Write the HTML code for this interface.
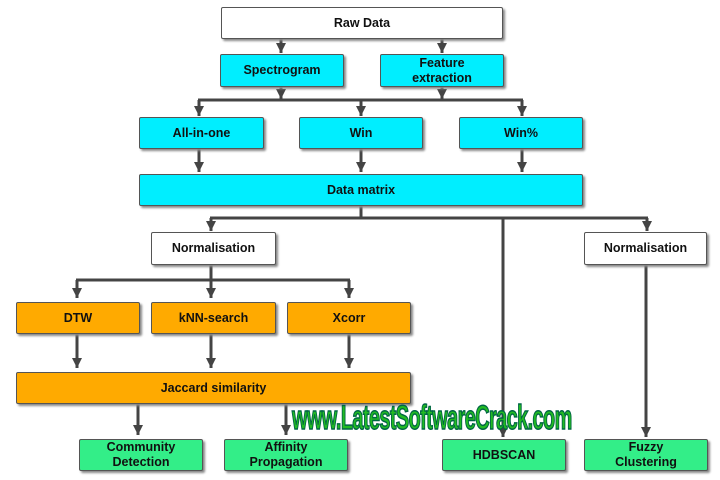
<!DOCTYPE html>
<html><head><style>
body{margin:0;width:720px;height:480px;background:#fff;position:relative;overflow:hidden;font-family:"Liberation Sans",Arial,sans-serif}
.b{position:absolute;box-sizing:border-box;border:1px solid #555;border-radius:2px;box-shadow:2px 2px 2px #888;display:flex;align-items:center;justify-content:center;text-align:center;font-weight:bold;font-size:12.5px;line-height:15px;color:#111}
.w{background:#fff}.c{background:#00eeff}.o{background:#ffaa00}.g{background:#33ee88}
svg{position:absolute;left:0;top:0}
.wm{position:absolute;left:292px;top:399px;font-weight:bold;font-size:34px;color:#22bb22;-webkit-text-stroke:1.5px #064;transform:scaleX(0.585);transform-origin:left top;white-space:nowrap;letter-spacing:-1px}
</style></head><body>
<svg width="720" height="480">
<defs><marker id="a" markerWidth="12" markerHeight="12" refX="10" refY="5" orient="auto" markerUnits="userSpaceOnUse"><path d="M0,0 L10,5 L0,10z" fill="#444"/></marker></defs>
<g stroke="#444" stroke-width="3" fill="none">
<line x1="281" y1="39" x2="281" y2="53" marker-end="url(#a)"/>
<line x1="442" y1="39" x2="442" y2="53" marker-end="url(#a)"/>
<line x1="281" y1="87" x2="281" y2="99" marker-end="url(#a)"/>
<line x1="442" y1="87" x2="442" y2="99" marker-end="url(#a)"/>
<line x1="198" y1="100" x2="523" y2="100"/>
<line x1="199" y1="100" x2="199" y2="116" marker-end="url(#a)"/>
<line x1="361" y1="100" x2="361" y2="116" marker-end="url(#a)"/>
<line x1="522" y1="100" x2="522" y2="116" marker-end="url(#a)"/>
<line x1="199" y1="148" x2="199" y2="172" marker-end="url(#a)"/>
<line x1="361" y1="148" x2="361" y2="172" marker-end="url(#a)"/>
<line x1="522" y1="148" x2="522" y2="172" marker-end="url(#a)"/>
<line x1="361" y1="206" x2="361" y2="218"/>
<line x1="210" y1="218" x2="648" y2="218"/>
<line x1="211" y1="218" x2="211" y2="231" marker-end="url(#a)"/>
<line x1="647" y1="218" x2="647" y2="231" marker-end="url(#a)"/>
<line x1="503" y1="218" x2="503" y2="437" marker-end="url(#a)"/>
<line x1="646" y1="265" x2="646" y2="437" marker-end="url(#a)"/>
<line x1="211" y1="265" x2="211" y2="298" marker-end="url(#a)"/>
<line x1="76" y1="280" x2="350" y2="280"/>
<line x1="77" y1="280" x2="77" y2="298" marker-end="url(#a)"/>
<line x1="349" y1="280" x2="349" y2="298" marker-end="url(#a)"/>
<line x1="77" y1="334" x2="77" y2="368" marker-end="url(#a)"/>
<line x1="211" y1="334" x2="211" y2="368" marker-end="url(#a)"/>
<line x1="349" y1="334" x2="349" y2="368" marker-end="url(#a)"/>
<line x1="138" y1="404" x2="138" y2="435" marker-end="url(#a)"/>
<line x1="286" y1="404" x2="286" y2="435" marker-end="url(#a)"/>
</g></svg>
<div class="b w" style="left:221px;top:7px;width:282px;height:32px">Raw Data</div>
<div class="b c" style="left:220px;top:54px;width:124px;height:33px">Spectrogram</div>
<div class="b c" style="left:380px;top:54px;width:124px;height:33px">Feature<br>extraction</div>
<div class="b c" style="left:139px;top:117px;width:125px;height:32px">All-in-one</div>
<div class="b c" style="left:299px;top:117px;width:124px;height:32px">Win</div>
<div class="b c" style="left:459px;top:117px;width:124px;height:32px">Win%</div>
<div class="b c" style="left:139px;top:174px;width:444px;height:32px">Data matrix</div>
<div class="b w" style="left:151px;top:232px;width:125px;height:33px">Normalisation</div>
<div class="b w" style="left:584px;top:232px;width:123px;height:33px">Normalisation</div>
<div class="b o" style="left:16px;top:302px;width:124px;height:32px">DTW</div>
<div class="b o" style="left:151px;top:302px;width:125px;height:32px">kNN-search</div>
<div class="b o" style="left:287px;top:302px;width:124px;height:32px">Xcorr</div>
<div class="b o" style="left:16px;top:372px;width:395px;height:32px">Jaccard similarity</div>
<div class="b g" style="left:79px;top:439px;width:124px;height:32px">Community<br>Detection</div>
<div class="b g" style="left:224px;top:439px;width:124px;height:32px">Affinity<br>Propagation</div>
<div class="b g" style="left:442px;top:439px;width:124px;height:32px">HDBSCAN</div>
<div class="b g" style="left:584px;top:439px;width:124px;height:32px">Fuzzy<br>Clustering</div>
<div class="wm">www.LatestSoftwareCrack.com</div>
</body></html>
